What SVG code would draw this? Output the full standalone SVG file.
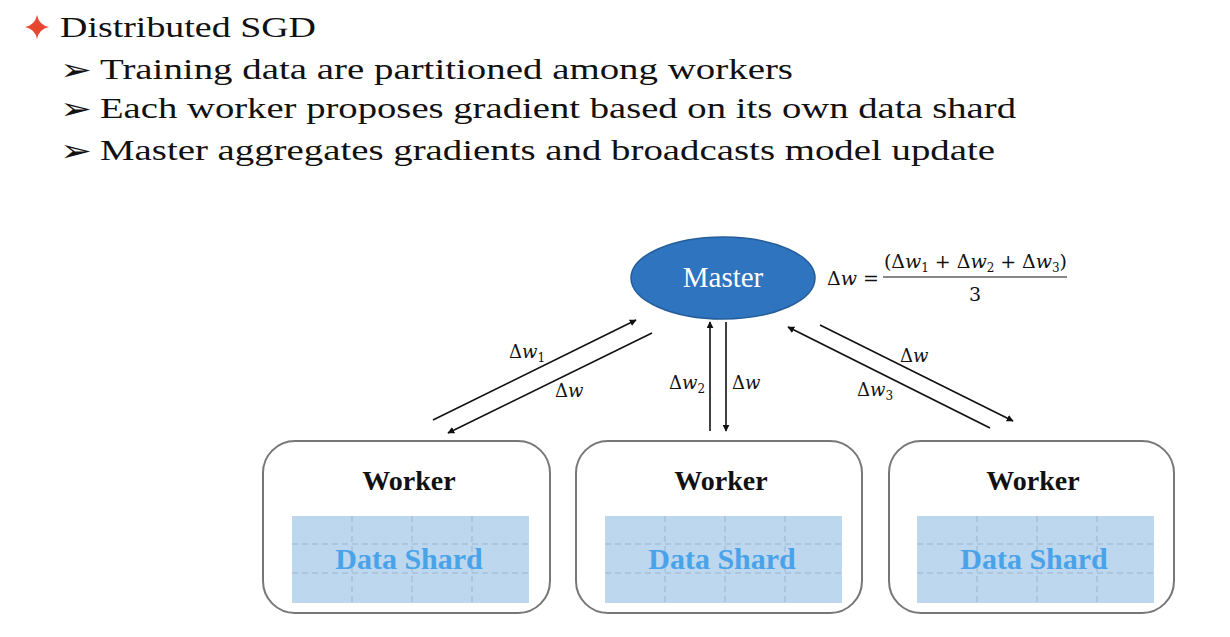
<svg xmlns="http://www.w3.org/2000/svg" width="1230" height="637" viewBox="0 0 1230 637">
<style>
.hd{font-family:"Liberation Serif",serif;font-size:30px;fill:#111}
.bul{font-family:"DejaVu Sans",sans-serif;font-size:30px;fill:#111}
.m{font-family:"DejaVu Serif","Liberation Serif",serif;font-size:18px;fill:#111}
.f{font-family:"DejaVu Serif","Liberation Serif",serif;font-size:19px;fill:#111}
.it{font-style:italic}
.sub{font-size:12px}
.box{fill:#fff;stroke:#777;stroke-width:2}
.shard{fill:#bdd7ee}
.grid{stroke:#9db3cc;stroke-width:1;stroke-dasharray:6 4;fill:none}
.wk{font-family:"Liberation Serif",serif;font-size:28px;font-weight:bold;fill:#111;text-anchor:middle}
.ds{font-family:"Liberation Serif",serif;font-size:30px;font-weight:bold;fill:#4aa3e8;text-anchor:middle}
.ln{stroke:#111;stroke-width:1.6;fill:none}
</style>
<defs>
<marker id="ah" viewBox="0 0 10 10" refX="9" refY="5" markerWidth="7" markerHeight="7" orient="auto" markerUnits="userSpaceOnUse">
<path d="M0,0 L10,5 L0,10 z" fill="#111"/>
</marker>
</defs>
<rect width="1230" height="637" fill="#fff"/>
<g id="header">
<path d="M37,15 Q39,25 49,27 Q39,29 37,39 Q35,29 25,27 Q35,25 37,15 z" fill="#e8472f"/>
<text class="hd" x="60" y="37" textLength="256" lengthAdjust="spacingAndGlyphs">Distributed SGD</text>
<text class="bul" x="60" y="80" textLength="32" lengthAdjust="spacingAndGlyphs">➢</text>
<text class="hd" x="100" y="79" textLength="693" lengthAdjust="spacingAndGlyphs">Training data are partitioned among workers</text>
<text class="bul" x="60" y="119" textLength="32" lengthAdjust="spacingAndGlyphs">➢</text>
<text class="hd" x="100" y="118" textLength="916" lengthAdjust="spacingAndGlyphs">Each worker proposes gradient based on its own data shard</text>
<text class="bul" x="60" y="161" textLength="32" lengthAdjust="spacingAndGlyphs">➢</text>
<text class="hd" x="100" y="160" textLength="895" lengthAdjust="spacingAndGlyphs">Master aggregates gradients and broadcasts model update</text>
</g>
<g id="master">
<ellipse cx="723" cy="278" rx="92" ry="41" fill="#2e74bf" stroke="#245d99" stroke-width="1.5"/>
<text x="723" y="287" text-anchor="middle" font-family="Liberation Serif,serif" font-size="29" fill="#fff">Master</text>
</g>
<g id="formula">
<text class="f" x="827" y="285">Δ<tspan class="it">w</tspan> =</text>
<text class="f" x="884" y="268" textLength="183">(Δ<tspan class="it">w</tspan><tspan class="sub" dy="4">1</tspan><tspan dy="-4"> + Δ</tspan><tspan class="it">w</tspan><tspan class="sub" dy="4">2</tspan><tspan dy="-4"> + Δ</tspan><tspan class="it">w</tspan><tspan class="sub" dy="4">3</tspan><tspan dy="-4">)</tspan></text>
<line x1="883" y1="277" x2="1067" y2="277" stroke="#111" stroke-width="1.2"/>
<text class="f" x="975" y="301" text-anchor="middle">3</text>
</g>
<g id="connectors">
<line class="ln" x1="433" y1="420" x2="636" y2="320" marker-end="url(#ah)"/>
<line class="ln" x1="652" y1="333" x2="448" y2="433" marker-end="url(#ah)"/>
<line class="ln" x1="710" y1="431" x2="710" y2="322" marker-end="url(#ah)"/>
<line class="ln" x1="726" y1="322" x2="726" y2="431" marker-end="url(#ah)"/>
<line class="ln" x1="820" y1="325" x2="1013" y2="421" marker-end="url(#ah)"/>
<line class="ln" x1="990" y1="428" x2="788" y2="327" marker-end="url(#ah)"/>
<text class="m" x="509" y="358">Δ<tspan class="it">w</tspan><tspan class="sub" dy="4">1</tspan></text>
<text class="m" x="555" y="397">Δ<tspan class="it">w</tspan></text>
<text class="m" x="669" y="389">Δ<tspan class="it">w</tspan><tspan class="sub" dy="4">2</tspan></text>
<text class="m" x="732" y="389">Δ<tspan class="it">w</tspan></text>
<text class="m" x="900" y="362">Δ<tspan class="it">w</tspan></text>
<text class="m" x="857" y="396">Δ<tspan class="it">w</tspan><tspan class="sub" dy="4">3</tspan></text>
</g>
<g id="worker1">
<rect class="box" x="263" y="441" width="287" height="172" rx="32"/>
<text class="wk" x="409" y="490">Worker</text>
<rect class="shard" x="292" y="516" width="237" height="87"/>
<path class="grid" d="M352,516V603M412,516V603M472,516V603M292,544H529M292,573H529"/>
<text class="ds" x="409" y="569">Data Shard</text>
</g>
<g id="worker2">
<rect class="box" x="576" y="441" width="286" height="172" rx="32"/>
<text class="wk" x="721" y="490">Worker</text>
<rect class="shard" x="605" y="516" width="237" height="87"/>
<path class="grid" d="M665,516V603M725,516V603M785,516V603M605,544H842M605,573H842"/>
<text class="ds" x="722" y="569">Data Shard</text>
</g>
<g id="worker3">
<rect class="box" x="889" y="441" width="285" height="172" rx="32"/>
<text class="wk" x="1033" y="490">Worker</text>
<rect class="shard" x="917" y="516" width="237" height="87"/>
<path class="grid" d="M977,516V603M1037,516V603M1097,516V603M917,544H1154M917,573H1154"/>
<text class="ds" x="1034" y="569">Data Shard</text>
</g>
</svg>
